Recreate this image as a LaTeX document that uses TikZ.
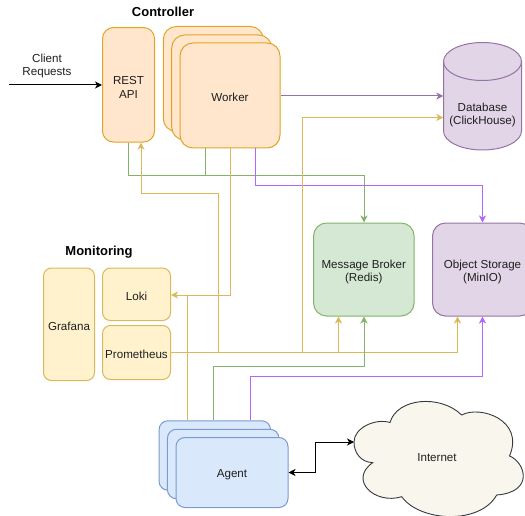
\documentclass[tikz,border=0pt]{standalone}
\usepackage{fontspec}
\setmainfont{Liberation Sans}
\usetikzlibrary{arrows.meta}
\definecolor{orF}{HTML}{FFE6CC}\definecolor{orD}{HTML}{E0A526}
\definecolor{yeF}{HTML}{FFF2CC}\definecolor{yeD}{HTML}{DBB95A}
\definecolor{grF}{HTML}{D5E8D4}\definecolor{grD}{HTML}{82B366}
\definecolor{puF}{HTML}{E1D5E7}\definecolor{puD}{HTML}{9673A6}
\definecolor{brP}{HTML}{B266FF}
\definecolor{blF}{HTML}{DAE8FC}\definecolor{blD}{HTML}{7A9BCF}
\definecolor{clF}{HTML}{F9F7ED}\definecolor{clD}{HTML}{36393D}
\tikzset{
  x=1pt,y=-1pt,
  every node/.style={font=\fontsize{11.6}{13.6}\selectfont,align=center,text=black!88,inner sep=0pt},
  orbox/.style={draw=orD,fill=orF,line width=1pt,rounded corners=11pt},
  yebox/.style={draw=yeD,fill=yeF,line width=1pt,rounded corners=8pt},
  grbox/.style={draw=grD,fill=grF,line width=1pt,rounded corners=13pt},
  pubox/.style={draw=puD,fill=puF,line width=1pt,rounded corners=13pt},
  blbox/.style={draw=blD,fill=blF,line width=1pt,rounded corners=9pt},
  title/.style={font=\fontsize{13}{15}\selectfont\bfseries,text=black},
  link/.style={line width=1pt,-{Stealth[length=7pt,width=7pt,inset=2pt]}},
  plain/.style={line width=1pt},
  yel/.style={draw=yeD},gre/.style={draw=grD},pur/.style={draw=puD},bri/.style={draw=brP}
}
\newcommand{\bx}[7]{\node[#1,minimum width=#4pt,minimum height=#5pt] (#2) at (#3,#6) {\rule{0pt}{13pt}#7};}
\begin{document}
\begin{tikzpicture}
\clip (0,0) rectangle (525,516);
% titles
\node[title] (tctl) at (163,11.5) {Controller};
\node[title] (tmon) at (99,252.5) {Monitoring};
\node (creq) at (47,66) {Client\\Requests};
% controller
\bx{orbox}{rest}{128.5}{52}{114.5}{84.8}{REST\\API}
\bx{orbox,rounded corners=13pt}{wa}{213.3}{100}{105}{79}{}
\bx{orbox,rounded corners=13pt}{wb}{221.7}{100}{105}{87.5}{}
\bx{orbox,rounded corners=13pt}{worker}{230}{100}{105}{95.5}{Worker}
% monitoring
\bx{yebox}{grafana}{69}{51}{112.5}{324.3}{Grafana}
\bx{yebox}{loki}{136.5}{68}{52.5}{294.3}{Loki}
\bx{yebox}{prom}{136.5}{68}{54}{352.5}{Prometheus}
% services
\bx{grbox}{redis}{363.8}{100.5}{93}{269.5}{Message Broker\\(Redis)}
\bx{pubox}{minio}{482.5}{100}{93}{269.5}{Object Storage\\(MinIO)}
% database
\filldraw[draw=puD,fill=puF,line width=1pt] (443.5,61.5) arc[start angle=180,end angle=360,x radius=39,y radius=19]
  -- (521.5,131) arc[start angle=0,end angle=180,x radius=39,y radius=19] -- cycle;
\draw[draw=puD,line width=1pt] (443.5,61.5) arc[start angle=180,end angle=0,x radius=39,y radius=19];
\node[minimum width=78pt,minimum height=107.5pt] (db) at (482.5,96.3) {};
\node (dbt) at (482.5,115) {Database\\(ClickHouse)};
% agents
\bx{blbox}{aa}{214.8}{111.5}{69.5}{455.5}{}
\bx{blbox}{ab}{223.2}{111.5}{69.5}{464}{}
\bx{blbox}{agent}{232}{112}{70}{472.5}{Agent}
% cloud
\filldraw[draw=clD,fill=clF,line width=0.9pt]
 (354,442) .. controls (354,428) and (375,418) .. (390,422.5)
 .. controls (397,398) and (440,394) .. (461.7,415)
 .. controls (480,405) and (525,420) .. (509.5,456)
 .. controls (525,462) and (535,492) .. (496.7,495)
 .. controls (480,525) and (420,522) .. (401.7,496.7)
 .. controls (375,505) and (348,480) .. (372.7,462.7)
 .. controls (360,462) and (354,452) .. (354,442) -- cycle;
\node[minimum width=150pt,minimum height=80pt] (inet) at (437,457.5) {Internet};
\coordinate (inetw) at (354,442);
\coordinate (cstart) at (9,85);
% connectors
\draw[link,black] (cstart) -- (rest.west |- cstart);
\draw[plain,gre] (worker.south -| 205,0) -- (205,176);
\draw[link,gre] (rest.south) -- (128.5,176) -- (364,176) -- (redis.north -| 364,0);
\draw[link,bri] (worker.south -| 255,0) -- (255,186) -- (482.5,186) -- (minio.north);
\draw[link,pur] (worker.east |- 0,96) -- (db.west |- 0,96);
\draw[link,yel] (worker.south) -- (230,295) -- (loki.east |- 0,295);
\draw[plain,yel] (aa.north -| 187.5,0) -- (187.5,295);
\draw[link,yel] (prom.east |- 0,352.3) -- (218.5,352.3) -- (218.5,194) -- (141,194) -- (rest.south -| 141,0);
\draw[link,yel] (prom.east |- 0,352.3) -- (302,352.3) -- (302,117.5) -- (db.west |- 0,117.5);
\draw[link,yel] (prom.east |- 0,352.3) -- (338.5,352.3) -- (redis.south -| 338.5,0);
\draw[link,yel] (prom.east |- 0,352.3) -- (457.5,352.3) -- (minio.south -| 457.5,0);
\draw[link,gre] (aa.north -| 213.5,0) -- (213.5,366.5) -- (364,366.5) -- (redis.south -| 364,0);
\draw[link,bri] (aa.north -| 250,0) -- (250,376) -- (482.5,376) -- (minio.south);
\draw[line width=1pt,black,{Stealth[length=7pt,width=7pt,inset=2pt]}-{Stealth[length=7pt,width=7pt,inset=2pt]}] (agent.east) -- (315,472.5) -- (315,442) -- (inetw);
\end{tikzpicture}
\end{document}
